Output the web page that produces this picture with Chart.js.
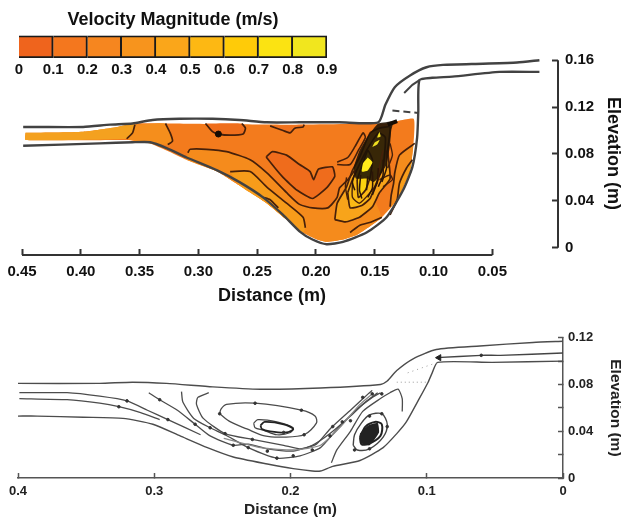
<!DOCTYPE html>
<html>
<head>
<meta charset="utf-8">
<script src="https://cdn.jsdelivr.net/npm/chart.js@4/dist/chart.umd.min.js"></script>
<style>
	html, body { margin: 0; padding: 0; background: #fff; overflow: hidden; width: 621px; height: 519px; }
	body { filter: blur(0.45px); }
	canvas { position: absolute; }
	#topChart { left: 0; top: 0; }
	#bottomChart { left: 0; top: 320px; }
	#legendChart { left: 0; top: 0; }
	#topDistance { position: absolute; left: 172px; width: 200px; top: 285px; text-align: center; font: bold 18px 'Liberation Sans', Arial, sans-serif; color: #111; }
</style>
</head>
<body>
<canvas id="topChart" width="624" height="310"></canvas>
<canvas id="bottomChart" width="625" height="199"></canvas>
<canvas id="legendChart" width="352" height="82"></canvas>
<div id="topDistance">Distance (m)</div>
<script>
// colour bar
var legendTicks = [0, 0.1, 0.2, 0.3, 0.4, 0.5, 0.6, 0.7, 0.8, 0.9];
var legendColors = ["#ef641d", "#f4771e", "#f6861f", "#f7941d", "#faa61a", "#fdb813", "#ffcb08", "#fbe312", "#f1e61e"];

// upper plot: distance, elevation
var topXTicks = [0.45, 0.40, 0.35, 0.30, 0.25, 0.20, 0.15, 0.10, 0.05];
var topYTicks = [0, 0.04, 0.08, 0.12, 0.16];
var topXAxisLine = [[0.45, -0.0062], [0.05, -0.0062]];
var topYAxisLine = [[-0.0058, 0], [-0.0058, 0.16]];

var upperWall = [[.449,.103],[.437,.103],[.398,.103],[.375,.105],[.356,.106],[.339,.109],[.316,.110],[.288,.110],[.265,.109],[.242,.107],[.214,.107],[.180,.107],[.147,.107],[.141,.122],[.133,.137],[.120,.147],[.106,.154],[.092,.156],[.058,.157],[.029,.158],[.010,.160]];
var lowerWall = [[.010,.150],[.044,.150],[.084,.146],[.101,.145],[.112,.143],[.113,.116],[.114,.094],[.118,.069],[.126,.049],[.140,.026],[.157,.013],[.177,.005],[.191,.003],[.203,.007],[.214,.014],[.228,.028],[.245,.043],[.265,.056],[.284,.066],[.310,.077],[.327,.085],[.341,.090],[.356,.090],[.384,.089],[.449,.087]];
var wallDash = [[.135,.117],[.113,.115]];
var wallStub = [[.125,.132],[.118,.139],[.112,.143]];

var flowArea = [[.447,.098],[.398,.099],[.369,.103],[.356,.106],[.327,.106],[.222,.105],[.148,.106],[.140,.106],[.117,.110],[.117,.089],[.120,.066],[.131,.041],[.146,.024],[.165,.011],[.177,.007],[.191,.005],[.199,.007],[.211,.013],[.225,.024],[.242,.038],[.265,.053],[.284,.065],[.310,.075],[.327,.083],[.341,.089],[.352,.091],[.361,.092],[.447,.092]];
var inletZone = [[.447,.098],[.398,.099],[.369,.103],[.356,.106],[.354,.105],[.356,.098],[.361,.093],[.447,.092]];
var entryZone = [[.354,.105],[.328,.106],[.324,.098],[.322,.091],[.326,.088],[.341,.089],[.352,.091],[.361,.093],[.356,.098]];
var pocketZone = [[.294,.106],[.288,.099],[.283,.097],[.273,.096],[.262,.097],[.260,.102],[.263,.106]];
var pocketDot = [[.283,.097]];
var roofZone = [[.239,.104],[.228,.100],[.222,.098],[.218,.102],[.211,.103],[.210,.105]];
var deepZone = [[.242,.078],[.237,.082],[.225,.079],[.214,.071],[.205,.065],[.202,.058],[.198,.067],[.186,.069],[.184,.061],[.191,.051],[.203,.042],[.216,.049],[.228,.060],[.242,.077]];
var contourFloor = [[.309,.081],[.307,.084],[.293,.084],[.276,.082],[.256,.075],[.242,.064],[.225,.047],[.214,.037],[.203,.034],[.190,.034],[.182,.043],[.180,.051],[.173,.058],[.167,.066]];
var floorZone = contourFloor.concat([[.150,.040],[.144,.026],[.146,.024],[.165,.011],[.177,.007],[.191,.005],[.199,.007],[.211,.013],[.225,.024],[.242,.038],[.265,.053],[.284,.065],[.310,.075]]);
var contourBed = [[.273,.065],[.256,.065],[.242,.052],[.225,.038],[.211,.026],[.209,.017]];
var bedZone = contourBed.concat([[.211,.013],[.225,.024],[.242,.038],[.265,.053]]);
var bedMark = [[.245,.043],[.239,.041],[.232,.034]];

var plumeOuter = [[.184,.024],[.182,.038],[.174,.052],[.169,.066],[.163,.077],[.154,.098],[.146,.102],[.137,.103],[.139,.083],[.137,.059],[.146,.047],[.152,.035],[.163,.026],[.175,.022]];
var plumeMiddle = [[.173,.047],[.171,.034],[.161,.036],[.154,.042],[.150,.052],[.143,.069],[.141,.094],[.147,.098],[.157,.083],[.169,.058]];
var plumeInner = [[.165,.058],[.164,.043],[.158,.049],[.154,.060],[.152,.075],[.156,.083]];
var coreLow = [[.156,.077],[.160,.072],[.161,.065],[.156,.066],[.152,.073]];
var coreMid = [[.150,.090],[.152,.086],[.148,.088],[.146,.092]];
var coreTop = [[.146,.099],[.148,.094],[.145,.095]];
var darkMass = [[.134,.108],[.147,.106],[.156,.095],[.163,.083],[.168,.068],[.166,.059],[.157,.059],[.151,.056],[.146,.061],[.140,.071],[.137,.088],[.136,.100]];
var darkCap = [[.139,.105],[.131,.108]];
var fingerLine = [[.182,.073],[.173,.077],[.167,.086],[.160,.098],[.158,.094],[.164,.083],[.171,.071],[.182,.071]];
var plumeLineA = [[.174,.060],[.175,.052],[.173,.041]];
var plumeLineB = [[.169,.055],[.169,.043],[.163,.038],[.154,.047],[.148,.055],[.146,.069],[.143,.083]];
var plumeLineC = [[.146,.058],[.137,.062],[.135,.058],[.143,.052]];
var plumeLineD = [[.137,.089],[.135,.079],[.139,.068]];
var streakA = [[.166,.066],[.169,.056],[.167,.049]];
var streakB = [[.162,.062],[.163,.049],[.161,.042]];
var streakC = [[.156,.061],[.157,.049]];
var streakD = [[.152,.065],[.152,.051],[.156,.043]];
var streakE = [[.147,.068],[.148,.056],[.152,.045]];
var streakF = [[.143,.075],[.143,.062],[.147,.052]];
var streakG = [[.140,.083],[.140,.068],[.144,.056]];
var sideLineA = [[.116,.089],[.129,.079],[.133,.064],[.134,.055],[.136,.045],[.137,.035]];
var sideLineB = [[.118,.075],[.123,.068],[.129,.055],[.131,.041],[.137,.028]];
var sideLineC = [[.171,.013],[.163,.019],[.153,.022],[.144,.026]];
var sideZoneA = sideLineA.concat([[.146,.024],[.131,.041],[.120,.066],[.117,.089]]);
var sideZoneB = sideLineB.concat([[.131,.041],[.120,.066]]);

// lower plot: streamlines
var bottomXTicks = [0.4, 0.3, 0.2, 0.1, 0];
var bottomYTicks = [0, 0.02, 0.04, 0.06, 0.08, 0.10, 0.12];
var bottomYLabels = [0, 0.04, 0.08, 0.12];

var roofLine = [[.400,.081],[.340,.081],[.316,.082],[.291,.081],[.257,.078],[.222,.076],[.178,.077],[.134,.080],[.129,.083],[.122,.092],[.110,.102],[.093,.110],[.061,.113],[.022,.116],[0,.117]];
var bedLine = [[0,.100],[.052,.099],[.092,.099],[.096,.090],[.099,.082],[.105,.069],[.115,.048],[.122,.038],[.132,.026],[.149,.015],[.169,.010],[.178,.006],[.184,.006],[.198,.008],[.217,.012],[.242,.018],[.261,.026],[.281,.036],[.301,.046],[.323,.051],[.352,.052],[.386,.053],[.400,.053]];
var inflowLine = [[0,.107],[.046,.105],[.060,.105],[.093,.103]];
var dottedUpper = [[.114,.090],[.092,.099]];
var dottedLower = [[.122,.082],[.099,.082]];
var streamA = [[.399,.073],[.364,.073],[.340,.070],[.320,.066],[.305,.058],[.290,.050],[.266,.037]];
var streamB = [[.399,.068],[.364,.067],[.340,.064],[.326,.061],[.310,.056],[.296,.050]];
var streamC = [[.304,.073],[.296,.067],[.283,.058],[.270,.046],[.259,.036],[.242,.028],[.231,.029],[.217,.025],[.198,.023],[.184,.028],[.171,.038],[.156,.053],[.145,.065],[.136,.073]];
var streamD = [[.280,.074],[.279,.065],[.271,.051],[.259,.043],[.248,.037],[.231,.026],[.210,.017],[.193,.019],[.178,.026],[.167,.040],[.153,.057],[.140,.069],[.134,.073]];
var streamE = [[.260,.073],[.268,.069],[.269,.063],[.264,.051],[.248,.038],[.228,.033],[.205,.028],[.193,.025],[.181,.029],[.171,.042],[.156,.058],[.143,.072],[.140,.075]];
var streamF = [[.249,.034],[.222,.026],[.197,.024],[.178,.028],[.164,.043],[.149,.063],[.140,.072]];
var hookLine = [[.170,.013],[.166,.024],[.156,.040],[.147,.057],[.134,.068],[.127,.073],[.121,.076],[.118,.068],[.118,.057]];
var eddyOuter = [[.252,.055],[.251,.059],[.247,.063],[.226,.064],[.192,.058],[.182,.053],[.181,.047],[.190,.037],[.205,.035],[.219,.036],[.232,.042],[.244,.048]];
var eddyMiddle = [[.227,.047],[.224,.050],[.210,.048],[.198,.043],[.200,.039],[.210,.037],[.220,.041],[.226,.043]];
var eddyInner = [[.222,.045],[.219,.048],[.205,.046],[.198,.042],[.203,.039],[.215,.040],[.221,.042]];
var spiralOuter = [[.154,.028],[.153,.037],[.148,.047],[.142,.054],[.133,.055],[.129,.046],[.132,.035],[.142,.025],[.151,.024]];
var spiralInner = [[.149,.035],[.145,.044],[.138,.048],[.133,.046],[.134,.036],[.143,.029],[.148,.029]];
var spiralCore = [[.149,.030],[.149,.038],[.143,.045],[.136,.047],[.135,.039],[.142,.028]];
var flowDots = [[.320,.066],[.326,.061],[.296,.067],[.290,.050],[.270,.046],[.259,.043],[.248,.038],[.242,.028],[.231,.026],[.228,.033],[.217,.023],[.210,.017],[.198,.019],[.252,.055],[.226,.064],[.192,.058],[.190,.037],[.205,.039],[.184,.024],[.060,.105],[.171,.036],[.162,.048],[.156,.049],[.169,.044],[.147,.069],[.140,.072],[.133,.072],[.142,.053],[.129,.044],[.133,.055],[.142,.025],[.153,.024]];
var flowArrow = [[.091,.103]];

var fontFamily = "'Liberation Sans', Arial, sans-serif";
var contourColor = "#46200a";

function closed(points) {
	return points.concat([points[0]]);
}

function zone(points, color, outline) {
	return {
		data : closed(points),
		showLine : true,
		fill : 'shape',
		backgroundColor : color,
		borderColor : outline || color,
		borderWidth : outline ? 1.7 : 0,
		pointRadius : 0,
		tension : 0.15,
		clip : false
	};
}

function stroke(points, color, width, dash, tension) {
	return {
		data : points,
		showLine : true,
		fill : false,
		borderColor : color,
		borderWidth : width,
		borderDash : dash || [],
		pointRadius : 0,
		tension : tension === undefined ? 0.2 : tension,
		clip : false
	};
}

function dots(points, color, radius, style, rotation) {
	return {
		data : points,
		showLine : false,
		backgroundColor : color,
		borderColor : color,
		pointRadius : radius,
		pointStyle : style || 'circle',
		rotation : rotation || 0,
		clip : false
	};
}

var wallColor = "#424242";
var topSets = [
	zone(flowArea, "#f37b1d"),
	zone(inletZone, "#f4a11f"),
	zone(entryZone, "#f58e1c"),
	zone(sideZoneA, "#f58c1c"),
	zone(sideZoneB, "#f89e1a"),
	zone(floorZone, "#f58b1c"),
	zone(bedZone, "#f79c1a"),
	zone(deepZone, "#ef6c1c", contourColor),
	zone(pocketZone, "#ef6e1c"),
	zone(roofZone, "#f1721d"),
	zone(plumeOuter, "#f8a41a", contourColor),
	zone(plumeMiddle, "#fbb915", contourColor),
	zone(plumeInner, "#fdd30f", contourColor),
	zone(darkMass, "rgba(29, 18, 6, 0.88)"),
	zone(coreLow, "#ffea1a"),
	zone(coreMid, "#f0e020"),
	zone(coreTop, "#f0e020"),
	stroke(contourFloor, contourColor, 1.7),
	stroke(contourBed, contourColor, 1.7),
	stroke(bedMark, contourColor, 1.7),
	stroke(pocketZone, contourColor, 1.7),
	stroke(roofZone, contourColor, 1.7),
	stroke([[.354,.105],[.356,.098],[.361,.093]], contourColor, 1.7),
	stroke([[.328,.106],[.324,.098],[.322,.091],[.326,.088]], contourColor, 1.7),
	stroke(fingerLine, contourColor, 1.6),
	stroke(plumeLineA, contourColor, 1.4),
	stroke(plumeLineB, contourColor, 1.4),
	stroke(plumeLineC, contourColor, 1.4),
	stroke(plumeLineD, contourColor, 1.4),
	stroke(streakA, "#2b1507", 1.5),
	stroke(streakB, "#2b1507", 1.5),
	stroke(streakC, "#2b1507", 1.5),
	stroke(streakD, "#2b1507", 1.5),
	stroke(streakE, "#2b1507", 1.5),
	stroke(streakF, "#2b1507", 1.5),
	stroke(streakG, "#2b1507", 1.5),
	stroke(sideLineA, contourColor, 1.7),
	stroke(sideLineB, contourColor, 1.7),
	stroke(sideLineC, contourColor, 1.7),
	stroke(darkCap, "#140c04", 4, [], 0),
	dots(pocketDot, "#140c04", 3),
	stroke(upperWall, wallColor, 2.4),
	stroke(lowerWall, wallColor, 2.4),
	stroke(wallDash, wallColor, 2, [7, 4], 0),
	stroke(wallStub, wallColor, 2, [], 0),
	stroke(topXAxisLine, "#333", 2, [], 0),
	stroke(topYAxisLine, "#333", 2, [], 0)
];

var lineColor = "#4c4c4c";
var bottomSets = [
	stroke(roofLine, lineColor, 1.4),
	stroke(bedLine, lineColor, 1.4),
	stroke(inflowLine, "#444", 1.4),
	stroke(dottedUpper, "#999", 1, [1, 4], 0),
	stroke(dottedLower, "#999", 1, [1, 3], 0),
	stroke(streamA, lineColor, 1.3),
	stroke(streamB, lineColor, 1.3),
	stroke(streamC, lineColor, 1.3),
	stroke(streamD, lineColor, 1.3),
	stroke(streamE, lineColor, 1.3),
	stroke(streamF, "#888", 1.3),
	stroke(hookLine, lineColor, 1.3),
	stroke(closed(eddyOuter), lineColor, 1.3, [], 0.3),
	stroke(closed(eddyMiddle), "#444", 1.2, [], 0.3),
	stroke(closed(eddyInner), "#222", 1.8, [], 0.3),
	stroke(closed(spiralOuter), "#444", 1.4, [], 0.3),
	stroke(closed(spiralInner), "#222", 2, [], 0.3),
	zone(spiralCore, "#222"),
	dots(flowDots, "#333", 1.3),
	dots(flowArrow, "#222", 3.5, 'triangle', -90)
];

// chart.js paints dataset 0 last, so hand the list over back to front
topSets.reverse();
bottomSets.reverse();

var basePlugins = {
	legend : { display : false },
	tooltip : { enabled : false }
};

new Chart(document.getElementById('topChart'), {
	type : 'scatter',
	data : { datasets : topSets },
	options : {
		animation : false,
		responsive : false,
		plugins : basePlugins,
		layout : { padding : { left : 22, top : 52 } },
		scales : {
			x : {
				type : 'linear',
				reverse : true,
				min : -0.0058,
				max : 0.45,
				border : { display : false },
				grid : { drawOnChartArea : false, tickLength : -6, tickWidth : 2, tickColor : "#333" },
				afterBuildTicks : function(axis) {
					axis.ticks = topXTicks.map(function(v) { return { value : v }; });
				},
				afterFit : function(axis) {
					axis.height = 55;
					axis.paddingLeft = 0;
					axis.paddingRight = 0;
				},
				ticks : {
					autoSkip : false,
					maxRotation : 0,
					padding : 14,
					color : "#111",
					font : { family : fontFamily, size : 15, weight : 'bold' },
					callback : function(v) { return v.toFixed(2); }
				}
			},
			y : {
				type : 'linear',
				position : 'right',
				min : -0.0062,
				max : 0.167,
				border : { display : false },
				grid : { drawOnChartArea : false, tickLength : -6, tickWidth : 2, tickColor : "#333" },
				afterBuildTicks : function(axis) {
					axis.ticks = topYTicks.map(function(v) { return { value : v }; });
				},
				afterFit : function(axis) {
					axis.width = 66;
				},
				ticks : {
					autoSkip : false,
					padding : 13,
					color : "#111",
					font : { family : fontFamily, size : 15, weight : 'bold' },
					callback : function(v) { return v === 0 ? "0" : v.toFixed(2); }
				},
				title : {
					display : true,
					text : "Elevation (m)",
					color : "#111",
					padding : 0,
					font : { family : fontFamily, size : 18, weight : 'bold' }
				}
			}
		}
	}
});

new Chart(document.getElementById('bottomChart'), {
	type : 'scatter',
	data : { datasets : bottomSets },
	options : {
		animation : false,
		responsive : false,
		plugins : basePlugins,
		layout : { padding : { left : 18, top : 14 } },
		scales : {
			x : {
				type : 'linear',
				reverse : true,
				min : 0,
				max : 0.4,
				border : { display : true, color : "#555", width : 1.5 },
				grid : { drawOnChartArea : false, tickLength : -5, tickWidth : 1.5, tickColor : "#555" },
				afterBuildTicks : function(axis) {
					axis.ticks = bottomXTicks.map(function(v) { return { value : v }; });
				},
				afterFit : function(axis) {
					axis.height = 41;
					axis.paddingLeft = 0;
					axis.paddingRight = 0;
				},
				ticks : {
					autoSkip : false,
					maxRotation : 0,
					padding : 11,
					color : "#222",
					font : { family : fontFamily, size : 13, weight : 'bold' },
					callback : function(v) { return v === 0 ? "0" : v.toFixed(1); }
				},
				title : {
					display : true,
					text : "Distance (m)",
					color : "#222",
					padding : 0,
					font : { family : fontFamily, size : 15.5, weight : 'bold' }
				}
			},
			y : {
				type : 'linear',
				position : 'right',
				min : 0,
				max : 0.12,
				border : { display : true, color : "#555", width : 1.5 },
				grid : { drawOnChartArea : false, tickLength : -5, tickWidth : 1.5, tickColor : "#555" },
				afterBuildTicks : function(axis) {
					axis.ticks = bottomYTicks.map(function(v) { return { value : v }; });
				},
				afterFit : function(axis) {
					axis.width = 62;
				},
				ticks : {
					autoSkip : false,
					padding : 10,
					color : "#222",
					font : { family : fontFamily, size : 13, weight : 'bold' },
					callback : function(v) {
						if (bottomYLabels.indexOf(v) < 0) return "";
						return v === 0 ? "0" : v.toFixed(2);
					}
				},
				title : {
					display : true,
					text : "Elevation (m)",
					color : "#222",
					padding : 0,
					font : { family : fontFamily, size : 15.5, weight : 'bold' }
				}
			}
		}
	}
});

// colour bar is a single stacked bar, one segment per 0.1 m/s
var legendSets = legendColors.map(function(c) {
	return { data : [0.1], backgroundColor : c, borderColor : "#1a1a1a", borderWidth : 2, stack : 'bar', barPercentage : 1, categoryPercentage : 1 };
});

new Chart(document.getElementById('legendChart'), {
	type : 'bar',
	data : { labels : ["Velocity"], datasets : legendSets },
	options : {
		indexAxis : 'y',
		animation : false,
		responsive : false,
		layout : { padding : { left : 19, right : 25 } },
		plugins : {
			legend : { display : false },
			tooltip : { enabled : false },
			title : {
				display : true,
				text : "Velocity Magnitude (m/s)",
				color : "#111",
				padding : { top : 9, bottom : 5 },
				font : { family : fontFamily, size : 18, weight : 'bold' }
			}
		},
		scales : {
			x : {
				type : 'linear',
				stacked : true,
				min : 0,
				max : 0.9,
				border : { display : false },
				grid : { display : false, drawTicks : false },
				afterBuildTicks : function(axis) {
					axis.ticks = legendTicks.map(function(v) { return { value : v }; });
				},
				afterFit : function(axis) {
					axis.height = 24;
				},
				ticks : {
					autoSkip : false,
					maxRotation : 0,
					padding : 3,
					color : "#111",
					font : { family : fontFamily, size : 15, weight : 'bold' },
					callback : function(v) { return v === 0 ? "0" : v.toFixed(1); }
				}
			},
			y : { display : false, stacked : true }
		}
	}
});
</script>
</body>
</html>
